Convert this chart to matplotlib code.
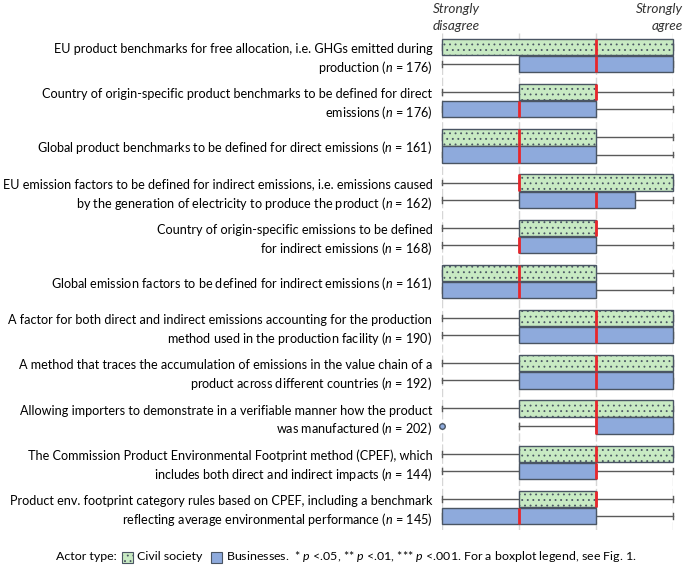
import matplotlib
matplotlib.use('Agg')
import matplotlib.pyplot as plt
from matplotlib.patches import Rectangle

plt.rcParams['font.family'] = ['Lato', 'DejaVu Sans']
plt.rcParams['mathtext.fontset'] = 'custom'
plt.rcParams['mathtext.it'] = 'Lato:italic'
plt.rcParams['mathtext.rm'] = 'Lato'
plt.rcParams['hatch.linewidth'] = 0.6

labels = [
    'EU product benchmarks for free allocation, i.e. GHGs emitted during\nproduction ($n$ = 176)',
    'Country of origin-specific product benchmarks to be defined for direct\nemissions ($n$ = 176)',
    'Global product benchmarks to be defined for direct emissions ($n$ = 161)',
    'EU emission factors to be defined for indirect emissions, i.e. emissions caused\nby the generation of electricity to produce the product ($n$ = 162)',
    'Country of origin-specific emissions to be defined\nfor indirect emissions ($n$ = 168)',
    'Global emission factors to be defined for indirect emissions ($n$ = 161)',
    'A factor for both direct and indirect emissions accounting for the production\nmethod used in the production facility ($n$ = 190)',
    'A method that traces the accumulation of emissions in the value chain of a\nproduct across different countries ($n$ = 192)',
    'Allowing importers to demonstrate in a verifiable manner how the product\nwas manufactured ($n$ = 202)',
    'The Commission Product Environmental Footprint method (CPEF), which\nincludes both direct and indirect impacts ($n$ = 144)',
    'Product env. footprint category rules based on CPEF, including a benchmark\nreflecting average environmental performance ($n$ = 145)',
]

# five-number summaries (1 = strongly disagree ... 4 = strongly agree)
civil_lo  = [1, 1, 1, 1, 1, 1, 1, 1, 1, 1, 1]
civil_q1  = [1, 2, 1, 2, 2, 1, 2, 2, 2, 2, 2]
civil_med = [3, 3, 2, 2, 3, 2, 3, 3, 3, 3, 3]
civil_q3  = [4, 3, 3, 4, 3, 3, 4, 4, 4, 4, 3]
civil_hi  = [4, 4, 4, 4, 4, 4, 4, 4, 4, 4, 4]

bus_lo  = [1, 1, 1, 1, 1, 1, 1, 1, 2, 1, 1]
bus_q1  = [2, 1, 1, 2, 2, 1, 2, 2, 3, 2, 1]
bus_med = [3, 2, 2, 3, 2, 2, 3, 3, 3, 3, 2]
bus_q3  = [4, 3, 3, 3.5, 3, 3, 4, 4, 4, 3, 3]
bus_hi  = [4, 4, 4, 4, 4, 4, 4, 4, 4, 4, 4]
bus_fliers = [[], [], [], [], [], [], [], [], [1], [], []]

civil_color = '#c8eac3'
bus_color = '#8eaadc'


def make_stats(lo, q1, med, q3, hi, fliers=None):
    stats = []
    for i in range(len(lo)):
        stats.append({'whislo': lo[i], 'q1': q1[i], 'med': med[i], 'q3': q3[i],
                      'whishi': hi[i], 'fliers': fliers[i] if fliers else []})
    return stats


fig = plt.figure(figsize=(6.85, 5.68), dpi=100)
W, H = 685, 568
x1, x4 = 442, 673
top, bottom = 33, 530
ax = fig.add_axes([x1 / W, 1 - bottom / H, (x4 - x1) / W, (bottom - top) / H])

pos = list(range(len(labels)))
off = 0.19
common = dict(vert=False, widths=0.36, capwidths=0.13, patch_artist=True,
              showfliers=True, manage_ticks=False)

b1 = ax.bxp(make_stats(civil_lo, civil_q1, civil_med, civil_q3, civil_hi),
            positions=[p - off for p in pos], **common)
b2 = ax.bxp(make_stats(bus_lo, bus_q1, bus_med, bus_q3, bus_hi, bus_fliers),
            positions=[p + off for p in pos], **common)

for b, col, hatch in [(b1, civil_color, '...'), (b2, bus_color, None)]:
    for box in b['boxes']:
        box.set_facecolor(col)
        box.set_edgecolor('#4a5563')
        box.set_linewidth(1.0)
        box.set_clip_on(False)
        box.set_zorder(3)
        if hatch:
            box.set_hatch(hatch)
    for m in b['medians']:
        m.set_color('#e8262b')
        m.set_linewidth(2)
        m.set_zorder(4)
        m.set_clip_on(False)
    for w in b['whiskers']:
        w.set_color('#5a5a5a')
        w.set_linewidth(1)
        w.set_clip_on(False)
        w.set_zorder(2)
    for c in b['caps']:
        c.set_color('#5a5a5a')
        c.set_linewidth(1)
        c.set_clip_on(False)
        c.set_zorder(2)
    for f in b['fliers']:
        f.set_marker('o')
        f.set_markerfacecolor(bus_color)
        f.set_markeredgecolor('#4a5563')
        f.set_markersize(4)
        f.set_clip_on(False)

ax.set_xlim(1, 4)
ax.set_ylim(len(labels) - 0.5, -0.5)
ax.set_xticks([1, 2, 3, 4])
ax.set_xticklabels([])
ax.grid(axis='x', color='#d6d6d6', linestyle=(0, (6, 2)), linewidth=1, zorder=0)
ax.set_axisbelow(True)
ax.set_yticks(pos)
ax.set_yticklabels(labels, fontsize=9.1, linespacing=1.3)
ax.tick_params(length=0, pad=7)
for s in ax.spines.values():
    s.set_visible(False)

fig.text(433 / W, 1 - 3 / H, 'Strongly\ndisagree', ha='left', va='top',
         style='italic', fontsize=9.8, linespacing=1.45, color='#333333')
fig.text(683 / W, 1 - 3 / H, 'Strongly\nagree', ha='right', va='top',
         style='italic', fontsize=9.8, linespacing=1.45, color='#333333',
         multialignment='right')

# legend line at the bottom, laid out piece by piece
fig.canvas.draw()
r = fig.canvas.get_renderer()
yl = 1 - 557 / H
fs = 8.9
x = 56 / W
t = fig.text(x, yl, 'Actor type:', fontsize=fs, va='center')
x += t.get_window_extent(r).width / W + 5 / W
fig.add_artist(Rectangle((x, yl - 5.5 / H), 11 / W, 11 / H, transform=fig.transFigure,
                         facecolor=civil_color, edgecolor='#4a5563', hatch='...', lw=0.8))
x += 15 / W
t = fig.text(x, yl, 'Civil society', fontsize=fs, va='center')
x += t.get_window_extent(r).width / W + 9 / W
fig.add_artist(Rectangle((x, yl - 5.5 / H), 11 / W, 11 / H, transform=fig.transFigure,
                         facecolor=bus_color, edgecolor='#4a5563', lw=0.8))
x += 15 / W
fig.text(x, yl, 'Businesses.  * $p$ <.05, ** $p$ <.01, *** $p$ <.001. For a boxplot legend, see Fig. 1.',
         fontsize=fs, va='center')

fig.savefig('out.png', dpi=100)
